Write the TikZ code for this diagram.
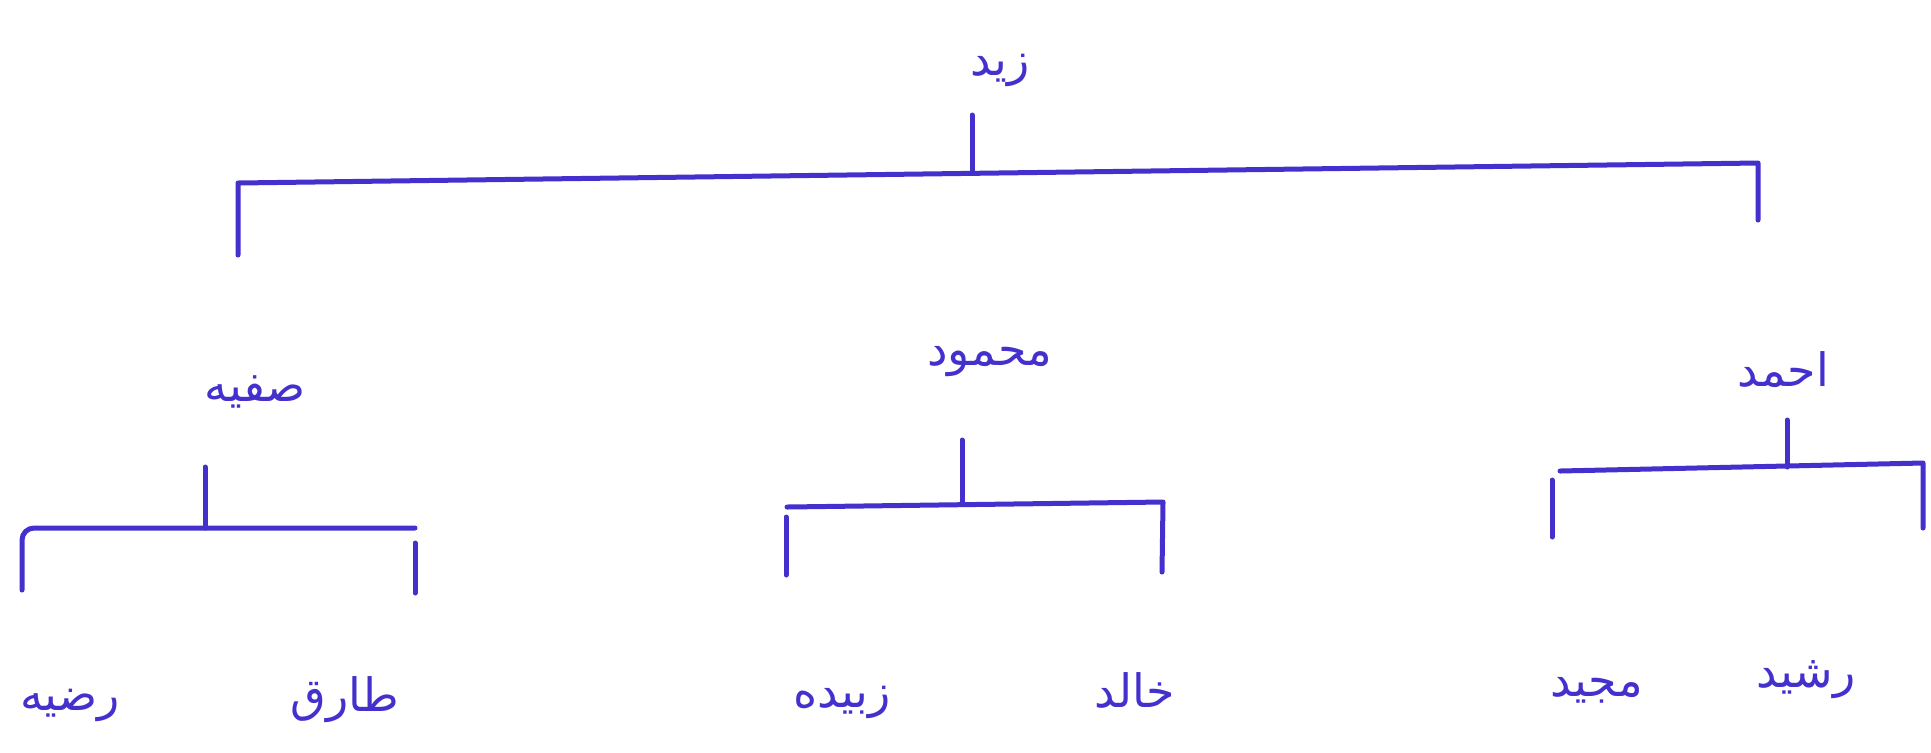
\documentclass[tikz,border=0pt]{standalone}
\usepackage{fontspec}
\newfontfamily\arabicfont[Script=Arabic]{DejaVu Sans}
\TeXXeTstate=1
\definecolor{ink}{RGB}{68,48,205}
\begin{document}
\begin{tikzpicture}[x=0.5pt,y=-0.5pt,
  person/.style={text=ink,font=\arabicfont\fontsize{23}{27}\selectfont,inner sep=0pt},
  link/.style={draw=ink,line width=2.5pt,line cap=round,line join=round}]
\useasboundingbox (0,0) rectangle (1931,752);
% names
\node[person] (zaid) at (1000,70) {\beginR زید\endR};
\node[person] (safia) at (255,392) {\beginR صفیه\endR};
\node[person] (mahmood) at (990,362) {\beginR محمود\endR};
\node[person] (ahmad) at (1783,370) {\beginR احمد\endR};
\node[person] (razia) at (70,705) {\beginR رضیه\endR};
\node[person] (tariq) at (345,700) {\beginR طارق\endR};
\node[person] (zubaida) at (842,702) {\beginR زبیده\endR};
\node[person] (khalid) at (1135,690) {\beginR خالد\endR};
\node[person] (majeed) at (1597,690) {\beginR مجید\endR};
\node[person] (rasheed) at (1806,680) {\beginR رشید\endR};
% junction points
\coordinate (z0) at (972,115);
\coordinate (z1) at (972,173);
\coordinate (zl) at (238,183);
\coordinate (zr) at (1758,163);
\coordinate (zlb) at (238,255);
\coordinate (zrb) at (1758,220);
\coordinate (s0) at (205,467);
\coordinate (s1) at (205,528);
\coordinate (sl) at (22,528);
\coordinate (sr) at (415,528);
\coordinate (slb) at (22,590);
\coordinate (srt) at (415,543);
\coordinate (srb) at (415,593);
\coordinate (m0) at (962,440);
\coordinate (m1) at (962,504);
\coordinate (ml) at (787,507);
\coordinate (mr) at (1163,502);
\coordinate (mlt) at (786,517);
\coordinate (mlb) at (786,575);
\coordinate (mrb) at (1162,572);
\coordinate (a0) at (1787,420);
\coordinate (a1) at (1787,467);
\coordinate (al) at (1560,471);
\coordinate (ar) at (1923,463);
\coordinate (alt) at (1552,480);
\coordinate (alb) at (1552,537);
\coordinate (arb) at (1923,528);
% Zaid family
\draw[link] (z0) -- (z1);
\draw[link] (zlb) -- (zl) -- (zr) -- (zrb);
% Safia family
\draw[link] (s0) -- (s1);
\draw[link,rounded corners=6pt] (slb) -- (sl) -- (sr);
\draw[link] (srt) -- (srb);
% Mahmood family
\draw[link] (m0) -- (m1);
\draw[link] (ml) -- (mr) -- (mrb);
\draw[link] (mlt) -- (mlb);
% Ahmad family
\draw[link] (a0) -- (a1);
\draw[link] (al) -- (ar) -- (arb);
\draw[link] (alt) -- (alb);
\end{tikzpicture}
\end{document}
